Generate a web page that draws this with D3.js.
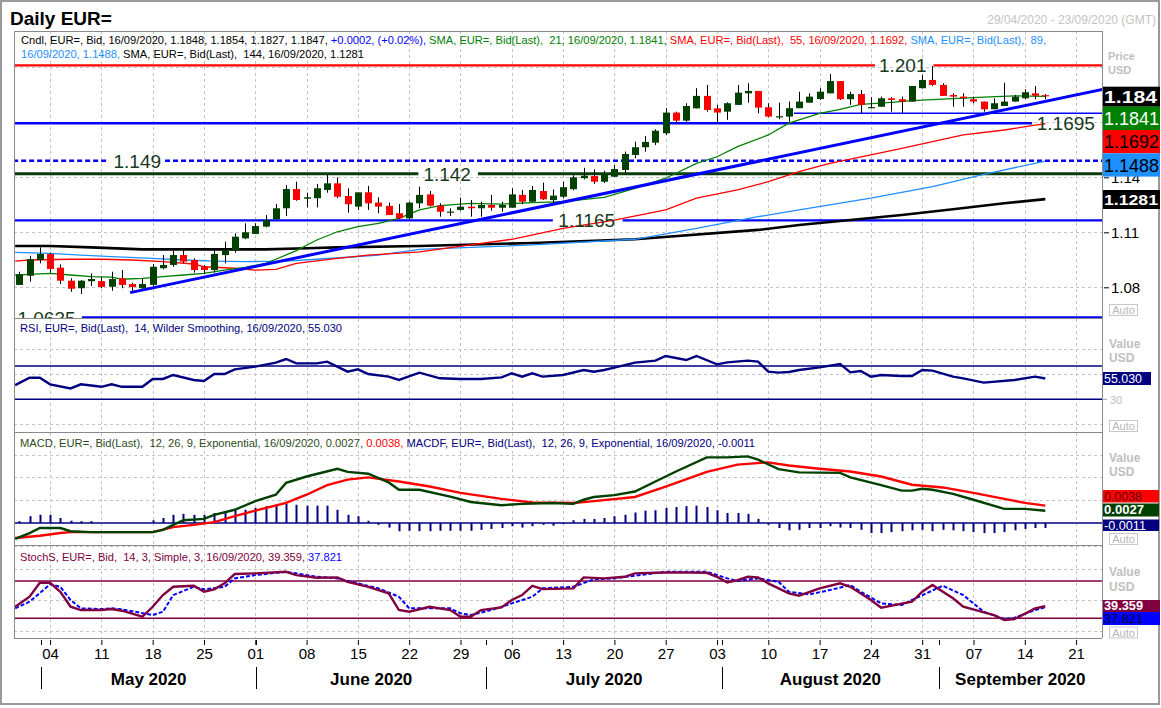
<!DOCTYPE html>
<html><head><meta charset="utf-8">
<script src="https://cdnjs.cloudflare.com/ajax/libs/d3/7.8.5/d3.min.js"></script>
<style>
body{margin:0;background:#fff;}
svg{display:block;}
text{font-family:"Liberation Sans",Arial,sans-serif;white-space:pre;}
</style></head>
<body>
<svg id="chart" width="1161" height="708"></svg>
<script>
// ================= DATA =================
// daily candles, index 0 = 29/04/2020 ... 100 = 16/09/2020
const open = [
 1.0813,1.0863,1.0949,1.0982,1.0907,1.0836,1.0795,1.0833,1.0834,1.0803,
 1.0849,1.0818,1.0795,1.0813,1.0904,1.0922,1.0976,1.0949,1.0912,1.0894,
 1.0976,1.1000,1.1067,1.1091,1.1131,1.1171,1.1231,1.1336,1.1283,1.1286,
 1.1331,1.1367,1.1298,1.1240,1.1318,1.1262,1.1244,1.1204,1.1176,1.1258,
 1.1307,1.1245,1.1211,1.1222,1.1240,1.1231,1.1249,1.1234,1.1234,1.1304,
 1.1267,1.1325,1.1276,1.1294,1.1335,1.1395,1.1407,1.1376,1.1403,1.1440,
 1.1522,1.1564,1.1589,1.1640,1.1753,1.1709,1.1776,1.1844,1.1776,1.1758,
 1.1795,1.1858,1.1871,1.1782,1.1729,1.1731,1.1777,1.1807,1.1827,1.1858,
 1.1925,1.1826,1.1854,1.1780,1.1785,1.1831,1.1826,1.1813,1.1886,1.1931,
 1.1904,1.1849,1.1840,1.1826,1.1813,1.1771,1.1789,1.1813,1.1831,1.1858,
 1.1848];
const high = [
 1.0885,1.0972,1.1018,1.0989,1.0925,1.0849,1.0840,1.0876,1.0855,1.0885,
 1.0894,1.0825,1.0849,1.0927,1.0976,1.1000,1.1003,1.0958,1.0922,1.1003,
 1.1049,1.1095,1.1149,1.1149,1.1194,1.1254,1.1358,1.1376,1.1316,1.1364,
 1.1413,1.1400,1.1340,1.1318,1.1353,1.1291,1.1262,1.1254,1.1267,1.1349,
 1.1325,1.1258,1.1231,1.1289,1.1276,1.1267,1.1304,1.1267,1.1340,1.1331,
 1.1353,1.1371,1.1333,1.1376,1.1411,1.1452,1.1444,1.1436,1.1467,1.1540,
 1.1594,1.1625,1.1662,1.1777,1.1758,1.1804,1.1886,1.1904,1.1795,1.1809,
 1.1904,1.1913,1.1871,1.1804,1.1807,1.1813,1.1867,1.1858,1.1886,1.1964,
 1.1925,1.1867,1.1876,1.1837,1.1840,1.1837,1.1840,1.1898,1.1958,1.2007,
 1.1913,1.1858,1.1858,1.1840,1.1813,1.1831,1.1916,1.1849,1.1880,1.1898,
 1.1854];
const low = [
 1.0813,1.0831,1.0931,1.0880,1.0818,1.0776,1.0763,1.0807,1.0795,1.0781,
 1.0795,1.0776,1.0785,1.0807,1.0898,1.0912,1.0931,1.0880,1.0871,1.0880,
 1.0931,1.0989,1.1063,1.1091,1.1127,1.1171,1.1189,1.1272,1.1236,1.1236,
 1.1316,1.1286,1.1207,1.1222,1.1222,1.1204,1.1194,1.1171,1.1171,1.1231,
 1.1240,1.1185,1.1189,1.1218,1.1185,1.1185,1.1218,1.1213,1.1234,1.1254,
 1.1267,1.1276,1.1258,1.1286,1.1329,1.1389,1.1364,1.1369,1.1403,1.1422,
 1.1504,1.1540,1.1576,1.1631,1.1695,1.1703,1.1776,1.1758,1.1695,1.1713,
 1.1795,1.1807,1.1749,1.1727,1.1717,1.1703,1.1777,1.1807,1.1822,1.1858,
 1.1822,1.1795,1.1749,1.1776,1.1785,1.1758,1.1749,1.1813,1.1884,1.1898,
 1.1844,1.1785,1.1785,1.1804,1.1758,1.1771,1.1789,1.1813,1.1826,1.1826,
 1.1827];
const close = [
 1.0871,1.0954,1.0982,1.0900,1.0836,1.0792,1.0836,1.0845,1.0802,1.0845,
 1.0813,1.0802,1.0818,1.0912,1.0922,1.0976,1.0940,1.0894,1.0894,1.0982,
 1.1000,1.1076,1.1100,1.1134,1.1167,1.1231,1.1336,1.1276,1.1291,1.1340,
 1.1367,1.1294,1.1253,1.1318,1.1258,1.1240,1.1194,1.1176,1.1262,1.1304,
 1.1245,1.1212,1.1213,1.1240,1.1231,1.1249,1.1234,1.1249,1.1307,1.1267,
 1.1331,1.1280,1.1300,1.1346,1.1400,1.1409,1.1376,1.1418,1.1445,1.1527,
 1.1564,1.1593,1.1654,1.1753,1.1709,1.1789,1.1844,1.1767,1.1753,1.1804,
 1.1862,1.1871,1.1780,1.1731,1.1733,1.1777,1.1813,1.1840,1.1867,1.1925,
 1.1826,1.1854,1.1795,1.1783,1.1831,1.1822,1.1813,1.1898,1.1931,1.1904,
 1.1844,1.1840,1.1831,1.1813,1.1771,1.1804,1.1813,1.1840,1.1864,1.1845,
 1.1847];

// moving averages: [dayIndex, price]
const sma21 = [[-0.4,1.0867],[1,1.0871],[3,1.0876],[5,1.0867],[7,1.0858],[9,1.0855],[10,1.0844],[12,1.0849],[14,1.0858],[16,1.0867],[18,1.0876],[20,1.0894],[22,1.0909],[24,1.0931],[25,1.0953],[27,1.1000],[29,1.1058],[31,1.1103],[33,1.1131],[35,1.1149],[37,1.1176],[39,1.1222],[41,1.1245],[44,1.1258],[47,1.1254],[50,1.1262],[53,1.1267],[57,1.1291],[60,1.1340],[63,1.1395],[66,1.1476],[68,1.1512],[70,1.1567],[73,1.1631],[75,1.1695],[78,1.1749],[80,1.1771],[82,1.1798],[85,1.1809],[87,1.1818],[90,1.1826],[94,1.1837],[97,1.1844],[100,1.1841]];
const sma55 = [[-0.4,1.0943],[1,1.0949],[5,1.0953],[8,1.0953],[11,1.0949],[14,1.0940],[17,1.0927],[18,1.0912],[21,1.0904],[23,1.0894],[25,1.0898],[27,1.0931],[31,1.0958],[34,1.0976],[39,1.0993],[48,1.1062],[53,1.1122],[58,1.1167],[63,1.1222],[66,1.1286],[70,1.1331],[73,1.1376],[76,1.1431],[79,1.1476],[83,1.1522],[86,1.1558],[89,1.1594],[92,1.1631],[96,1.1658],[99,1.1685],[100,1.1692]];
const sma89 = [[-0.4,1.0991],[3,1.0985],[6,1.0976],[9,1.0967],[13,1.0958],[16,1.0949],[19,1.0943],[22,1.0940],[26,1.0943],[29,1.0953],[32,1.0964],[35,1.0976],[39,1.1007],[50,1.1031],[60,1.1062],[66,1.1122],[72,1.1185],[76,1.1222],[83,1.1286],[89,1.1349],[94,1.1416],[100,1.1488]];
const sma144 = [[-0.4,1.1025],[3,1.1025],[7,1.1018],[12,1.1007],[16,1.1007],[24,1.1007],[28,1.1013],[31,1.1018],[39,1.1025],[50,1.1042],[60,1.1062],[72,1.1113],[76,1.1140],[86,1.1194],[91,1.1226],[96,1.1258],[100,1.1281]];

// drawn trend line and horizontal levels
const trendLine = [[10.8,1.0771],[105.8,1.1882]];
const levelPrices = [1.201, 1.1695, 1.149, 1.142, 1.1165, 1.0635, 1.1749];
const levelLabels = ["1.201","1.1695","1.149","1.142","1.1165","1.0635",""];

// RSI(14)
const rsi = [[-0.4,47],[1,55.9],[2,55.9],[3,48],[5,43],[6,48],[8,45],[9,48],[10,45],[12,45],[13,54.4],[14,54.4],[15,59.2],[17,53.2],[18,52],[19,60.4],[20,60.4],[21,66],[23,69.2],[25,74],[26,78.4],[27,73.2],[29,73.2],[30,75.2],[32,63.2],[33,66],[34,60.4],[36,57.2],[37,53.2],[39,62],[41,55.2],[43,54.4],[45,54.4],[47,56.4],[48,61.2],[49,57.2],[50,61.2],[51,57.2],[53,59.2],[55,65.2],[56,63.2],[57,65.2],[58,68],[60,74],[62,76.4],[63,82],[65,77.2],[66,82],[68,72],[69,74.4],[71,76.4],[72,75.2],[73,63.2],[74,62],[75,62.8],[76,65.2],[78,68.4],[80,72.4],[81,62.4],[82,64],[83,57.2],[84,59.2],[86,58],[87,58],[88,65.2],[89,64.4],[91,57.2],[92,55.2],[94,50],[97,53.2],[99,57.2],[100,55.03]];

// MACD(12,26,9)
const macdLine = [[-0.4,-0.0035],[1,-0.0022],[2,-0.0011],[4,-0.0011],[5,-0.0018],[7,-0.0020],[10,-0.0020],[13,-0.0020],[14,-0.0015],[15,-0.0004],[16,0.0006],[18,0.0009],[19,0.0018],[21,0.0029],[23,0.0048],[25,0.0062],[26,0.0088],[28,0.0102],[31,0.0119],[32,0.0112],[34,0.0108],[36,0.0089],[37,0.0073],[39,0.0073],[42,0.0058],[44,0.0046],[47,0.0039],[49,0.0042],[52,0.0044],[54,0.0042],[55,0.0051],[56,0.0057],[58,0.0061],[60,0.0069],[62,0.0091],[64,0.0113],[67,0.0144],[69,0.0144],[71,0.0146],[72,0.0139],[74,0.0118],[76,0.0111],[80,0.0110],[81,0.0100],[84,0.0083],[86,0.0071],[87,0.0071],[88,0.0075],[89,0.0073],[91,0.0064],[93,0.0051],[96,0.0031],[98,0.0031],[100,0.0027]];
const macdSignal = [[-0.4,-0.0033],[2,-0.0028],[4,-0.0022],[5,-0.0020],[8,-0.0020],[13,-0.0020],[15,-0.0009],[17,-0.0004],[19,0.0002],[21,0.0015],[23,0.0027],[26,0.0044],[28,0.0062],[30,0.0083],[32,0.0095],[34,0.0100],[37,0.0091],[40,0.0080],[43,0.0066],[47,0.0053],[50,0.0045],[54,0.0044],[56,0.0048],[60,0.0057],[63,0.0080],[67,0.0112],[70,0.0128],[73,0.0133],[75,0.0126],[78,0.0119],[81,0.0113],[84,0.0102],[87,0.0084],[90,0.0078],[93,0.0066],[96,0.0053],[98,0.0044],[100,0.0038]];
const macdHist = [
 0.0004,0.0015,0.0018,0.0018,0.0011,0.0005,0.0004,0.0004,0,0,
 0,0,0,0.0006,0.0011,0.0018,0.0020,0.0018,0.0018,0.0022,
 0.0024,0.0028,0.0029,0.0033,0.0037,0.0040,0.0042,0.0040,0.0038,0.0038,
 0.0038,0.0029,0.0018,0.0015,0.0005,-0.0004,-0.0010,-0.0018,-0.0017,-0.0018,
 -0.0018,-0.0017,-0.0017,-0.0017,-0.0017,-0.0015,-0.0013,-0.0011,-0.0007,-0.0010,
 -0.0007,-0.0004,-0.0006,-0.0002,0.0006,0.0009,0.0009,0.0011,0.0015,0.0018,
 0.0023,0.0027,0.0028,0.0033,0.0035,0.0037,0.0038,0.0035,0.0028,0.0022,
 0.0022,0.0020,0.0009,-0.0004,-0.0011,-0.0016,-0.0015,-0.0011,-0.0011,-0.0007,
 -0.0010,-0.0011,-0.0015,-0.0022,-0.0022,-0.0020,-0.0018,-0.0016,-0.0015,-0.0018,
 -0.0015,-0.0016,-0.0018,-0.0020,-0.0022,-0.0022,-0.0020,-0.0016,-0.0013,-0.0011,
 -0.0011];

// Slow stochastic (14,3,3)
const stochK = [[-0.4,38.6],[1,54.7],[2,77.2],[3,77.2],[4,62.7],[5,38.6],[6,33.3],[8,33.3],[9,34.9],[10,32.2],[12,22.5],[13,38.6],[14,57.4],[15,70.7],[17,72.3],[18,62.7],[19,66.6],[20,76.2],[21,91.2],[23,92.3],[26,94.9],[27,89.5],[29,85.2],[31,85.8],[32,78.8],[34,70.7],[36,60.1],[37,33.3],[38,30.5],[40,38.6],[42,33.3],[43,22.5],[44,22.5],[45,33.3],[47,37.6],[48,49.4],[49,57.4],[50,72.3],[51,67],[54,68.2],[55,85.8],[57,84.2],[59,86.8],[60,92.3],[62,93.2],[64,93.8],[67,93.2],[68,86.8],[69,77.8],[70,81.5],[71,86.8],[72,85.8],[73,76.2],[75,60.1],[76,56.3],[78,68.2],[80,76.2],[81,70.7],[83,49.4],[84,37],[87,46.6],[88,62.7],[89,73.5],[91,52.1],[92,38.6],[95,25.2],[96,17.2],[97,18.8],[99,36],[100,39.359]];
const stochD = [[-0.4,36],[1,46.6],[3,74.6],[4,70.7],[5,49.4],[6,36],[8,34.9],[9,36],[10,34.4],[13,25.2],[14,30.5],[15,57.4],[17,70.7],[18,66.6],[20,70.7],[21,84.2],[23,89.5],[26,94.9],[29,86.8],[31,84.2],[33,76.2],[35,68.2],[37,54.7],[38,36],[40,36],[42,36],[43,28],[44,25.2],[46,33.3],[48,44],[50,54.7],[51,68.2],[54,70.7],[56,82.6],[58,84.2],[60,88.4],[63,94.9],[67,94.9],[69,84.2],[70,79.9],[72,84.2],[74,78.8],[75,62.7],[77,58.5],[79,65.4],[81,73.5],[82,62.7],[84,44],[86,41.3],[87,49.4],[90,72.3],[92,57.4],[94,30.5],[96,18.8],[97,20.9],[99,33.3],[100,37.821]];

// axis labels
const priceTicks = [1.08, 1.11, 1.14];
const priceGrid = [1.08, 1.11, 1.14, 1.17, 1.20];
const monthNames = ["May 2020","June 2020","July 2020","August 2020","September 2020"];
const monthStarts = [2.1, 23.1, 45.5, 68.5, 89.6, 105.8]; // boundaries in day-index units

// ================= LAYOUT =================
const svg = d3.select("#chart");
const L = 14, R = 1102, AR = 1160;
const P = {top:31, bot:318}, RS = {top:318, bot:432}, MC = {top:432, bot:545}, ST = {top:545, bot:638};

const dates = d3.timeDay.range(new Date(2020,3,29), new Date(2020,8,24)).filter(d => d.getDay()%6 !== 0);
const x  = d3.scaleLinear().domain([0, 103]).range([19.3, 1076.1]);
const yP = d3.scaleLinear().domain([1.08, 1.14]).range([287.3, 177.3]);
const yR = d3.scaleLinear().domain([30, 70]).range([399.3, 366]);
const yM = d3.scaleLinear().domain([0, 0.005]).range([523, 500.2]);
const yS = d3.scaleLinear().domain([20, 80]).range([618.3, 581]);

svg.append("rect").attr("width",1161).attr("height",708).attr("fill","#fff");

const defs = svg.append("defs");
function clip(id, p){ defs.append("clipPath").attr("id",id).append("rect").attr("x",L).attr("y",p.top).attr("width",R-L).attr("height",p.bot-p.top); return "url(#"+id+")"; }
const cP = clip("cp",P), cR = clip("cr",RS), cM = clip("cm",MC), cS = clip("cs",ST);

// ---- grid ----
const mondays = dates.map((d,i)=> d.getDay()===1 ? i : -1).filter(i=>i>=0);
const grid = svg.append("g").attr("stroke","#c4c4c4").attr("stroke-width",1).attr("stroke-dasharray","3,3");
mondays.forEach(i=>{
  grid.append("line").attr("x1",Math.round(x(i))+0.5).attr("x2",Math.round(x(i))+0.5).attr("y1",P.top).attr("y2",ST.bot);
});
function hgrid(vals, scale){ vals.forEach(v=>{ const y=Math.round(scale(v))+0.5; grid.append("line").attr("x1",L).attr("x2",R).attr("y1",y).attr("y2",y); }); }
hgrid(priceGrid, yP);
hgrid([0,30,60,90], yR);
hgrid([-0.005,0.005,0.010,0.015], yM);
hgrid([0,50,100], yS);

// ---- price panel ----
const gp = svg.append("g").attr("clip-path",cP);
const line = (sx, sy) => d3.line().x(d=>sx(d[0])).y(d=>sy(d[1]));

// levels
const levelStyle = [
 {color:"#ff0000", w:2.2, dash:null, from:-0.6, to:105.8, gap:[83.4,89.1], lab:86.1},
 {color:"#0000ff", w:2.4, dash:null, from:-0.6, to:98.7, gap:null, lab:102.0},
 {color:"#0000ff", w:2.6, dash:"5,3", from:-0.6, to:105.8, gap:[8.6,14.2], lab:11.5},
 {color:"#0b3d0b", w:3, dash:null, from:-0.6, to:105.8, gap:[38.9,44.7], lab:41.7},
 {color:"#0000ff", w:2.4, dash:null, from:-0.6, to:105.8, gap:[52,58.8], lab:55.3},
 {color:"#0000ff", w:2.4, dash:null, from:6.1, to:105.8, gap:null, lab:2.65},
 {color:"#0000ff", w:1.4, dash:null, from:75.5, to:105.8, gap:null, lab:null}
];
levelPrices.forEach((p,k)=>{
  const s = levelStyle[k];
  const segs = s.gap ? [[s.from,s.gap[0]],[s.gap[1],s.to]] : [[s.from,s.to]];
  segs.forEach(sg=>{
    gp.append("line").attr("x1",x(sg[0])).attr("x2",x(sg[1])).attr("y1",yP(p)).attr("y2",yP(p))
      .attr("stroke",s.color).attr("stroke-width",s.w).attr("stroke-dasharray",s.dash);
  });
});

// moving averages
gp.append("path").datum(sma144).attr("d",line(x,yP)).attr("fill","none").attr("stroke","#000").attr("stroke-width",2.6);
gp.append("path").datum(sma89).attr("d",line(x,yP)).attr("fill","none").attr("stroke","#1e90ff").attr("stroke-width",1.3);
gp.append("path").datum(sma55).attr("d",line(x,yP)).attr("fill","none").attr("stroke","#ff0000").attr("stroke-width",1.3);
gp.append("path").datum(sma21).attr("d",line(x,yP)).attr("fill","none").attr("stroke","#008000").attr("stroke-width",1.3);

// candles
const cg = gp.append("g");
open.forEach((o,i)=>{
  const c = close[i], cx = Math.round(x(i))+0.5;
  cg.append("line").attr("x1",cx).attr("x2",cx).attr("y1",yP(high[i])).attr("y2",yP(low[i])).attr("stroke","#000").attr("stroke-width",1);
  const y1 = yP(Math.max(o,c)), y2 = yP(Math.min(o,c));
  cg.append("rect").attr("x",cx-3.5).attr("width",7).attr("y",y1).attr("height",Math.max(1.2,y2-y1))
    .attr("fill", c>=o ? "#004000" : "#ff0000");
});

// trend line
gp.append("path").datum(trendLine).attr("d",line(x,yP)).attr("fill","none").attr("stroke","#0000ff").attr("stroke-width",3);

// level labels
levelPrices.forEach((p,k)=>{
  const s = levelStyle[k];
  if(s.lab===null) return;
  gp.append("text").attr("x",x(s.lab)).attr("y",yP(p)+7).attr("text-anchor","middle")
    .attr("font-size",19).attr("fill","#17391c").text(levelLabels[k]);
});

// header texts
function header(xx, y, segs, width, size){
  const t = svg.append("text").attr("x",xx).attr("y",y).attr("font-size",size);
  segs.forEach(s=> t.append("tspan").attr("fill",s[1]).text(s[0]));
  t.attr("textLength",width).attr("lengthAdjust","spacingAndGlyphs");
  return t;
}
const f4 = d3.format(".4f");
const last = open.length-1;
header(21, 44, [
  ["Cndl, EUR=, Bid, 16/09/2020, "+f4(open[last])+", "+f4(high[last])+", "+f4(low[last])+", "+f4(close[last])+", ","#000"],
  ["+"+f4(0.0002)+", (+0.02%), ","#0000ff"],
  ["SMA, EUR=, Bid(Last),  21, 16/09/2020, "+f4(sma21[sma21.length-1][1])+", ","#008000"],
  ["SMA, EUR=, Bid(Last),  55, 16/09/2020, "+f4(sma55[sma55.length-1][1])+", ","#ff0000"],
  ["SMA, EUR=, Bid(Last),  89,","#1e90ff"]
], 1025, 11);
header(21, 57.5, [
  ["16/09/2020, "+f4(sma89[sma89.length-1][1])+", ","#1e90ff"],
  ["SMA, EUR=, Bid(Last),  144, 16/09/2020, "+f4(sma144[sma144.length-1][1]),"#000"]
], 343, 11);

// ---- RSI panel ----
const gr = svg.append("g").attr("clip-path",cR);
[70,30].forEach(v=> gr.append("line").attr("x1",L).attr("x2",R).attr("y1",yR(v)).attr("y2",yR(v)).attr("stroke","#000080").attr("stroke-width",1.4));
gr.append("path").datum(rsi).attr("d",line(x,yR)).attr("fill","none").attr("stroke","#000080").attr("stroke-width",2.4);
header(20, 332, [["RSI, EUR=, Bid(Last),  14, Wilder Smoothing, 16/09/2020, 55.030","#000080"]], 322, 10.5);

// ---- MACD panel ----
const gm = svg.append("g").attr("clip-path",cM);
gm.append("line").attr("x1",L).attr("x2",R).attr("y1",yM(0)).attr("y2",yM(0)).attr("stroke","#000080").attr("stroke-width",1.5);
macdHist.forEach((v,i)=>{
  if(v===0) return;
  const cx = Math.round(x(i))+0.5;
  gm.append("line").attr("x1",cx).attr("x2",cx).attr("y1",yM(0)).attr("y2",yM(v)).attr("stroke","#000080").attr("stroke-width",2);
});
gm.append("path").datum(macdSignal).attr("d",line(x,yM)).attr("fill","none").attr("stroke","#ff0000").attr("stroke-width",2.4);
gm.append("path").datum(macdLine).attr("d",line(x,yM)).attr("fill","none").attr("stroke","#004000").attr("stroke-width",2.4);
header(20, 446.5, [
  ["MACD, EUR=, Bid(Last),  12, 26, 9, Exponential, 16/09/2020, 0.0027, ","#2d4d1d"],
  ["0.0038, ","#ff0000"],
  ["MACDF, EUR=, Bid(Last),  12, 26, 9, Exponential, 16/09/2020, -0.0011","#000080"]
], 735, 10.5);

// ---- Stochastic panel ----
const gs = svg.append("g").attr("clip-path",cS);
[80,20].forEach(v=> gs.append("line").attr("x1",L).attr("x2",R).attr("y1",yS(v)).attr("y2",yS(v)).attr("stroke","#800040").attr("stroke-width",1.4));
gs.append("path").datum(stochD).attr("d",line(x,yS)).attr("fill","none").attr("stroke","#0000ff").attr("stroke-width",2).attr("stroke-dasharray","4,2");
gs.append("path").datum(stochK).attr("d",line(x,yS)).attr("fill","none").attr("stroke","#800040").attr("stroke-width",2.4);
header(20, 561, [
  ["StochS, EUR=, Bid,  14, 3, Simple, 3, 16/09/2020, 39.359, ","#800040"],
  ["37.821","#0000ff"]
], 322, 10.5);

// ---- frames ----
const fr = svg.append("g").attr("stroke","#8a8a8a").attr("stroke-width",1);
fr.append("line").attr("x1",L).attr("x2",R).attr("y1",P.top+0.5).attr("y2",P.top+0.5);
fr.append("line").attr("x1",L+0.5).attr("x2",L+0.5).attr("y1",P.top).attr("y2",ST.bot);
fr.append("line").attr("x1",R+0.5).attr("x2",R+0.5).attr("y1",P.top).attr("y2",ST.bot);
[P.bot, RS.bot, MC.bot, ST.bot].forEach(y=> fr.append("line").attr("x1",L).attr("x2",R).attr("y1",y+0.5).attr("y2",y+0.5));
svg.append("rect").attr("x",1).attr("y",1).attr("width",1158).attr("height",703).attr("fill","none").attr("stroke","#9a9a9a").attr("stroke-width",2);

// ---- title ----
svg.append("text").attr("x",10).attr("y",25).attr("font-size",19).attr("font-weight","bold").attr("fill","#000").text("Daily EUR=");
svg.append("text").attr("x",1156).attr("y",24).attr("text-anchor","end").attr("font-size",12).attr("fill","#c4c4c4").text("29/04/2020 - 23/09/2020 (GMT)");

// ---- right price axis ----
const ax = svg.append("g").attr("transform","translate("+(R+2)+",0)")
  .call(d3.axisRight(yP).tickValues(priceTicks).tickSize(5).tickPadding(2).tickFormat(d3.format(".2f")));
ax.select(".domain").remove();
ax.selectAll("text").attr("font-family","DejaVu Sans").attr("font-size",15).attr("fill","#000");
ax.selectAll("line").attr("stroke","#000");

function gray(t, xx, y, size, bold){ svg.append("text").attr("x",xx).attr("y",y).attr("font-size",size).attr("font-weight",bold?"bold":"normal").attr("fill","#c0c0c0").text(t); }
function autoBox(y){ svg.append("rect").attr("x",1109.5).attr("y",y+0.5).attr("width",28).attr("height",11).attr("fill","#fff").attr("stroke","#c8c8c8");
  svg.append("text").attr("x",1123.5).attr("y",y+10).attr("text-anchor","middle").attr("font-size",11).attr("fill","#b8b8b8").text("Auto"); }
gray("Price",1108,59.5,11,true); gray("USD",1108,73.5,11,true);
gray("Value",1109,347.5,12,true); gray("USD",1109,362,12,true);
gray("Value",1109,461.5,12,true); gray("USD",1109,476,12,true);
gray("Value",1109,576,12,true); gray("USD",1109,591,12,true);
svg.append("line").attr("x1",R).attr("x2",R+5).attr("y1",yR(30)).attr("y2",yR(30)).attr("stroke","#999");
gray("30",1110,404,11,false);
autoBox(304); autoBox(420); autoBox(533); autoBox(626.5);

// value tags
function tag(y0, h, w, bg, fg, txt, family, size, weight, tl){
  svg.append("rect").attr("x",R+1).attr("y",y0).attr("width",w).attr("height",h).attr("fill",bg);
  const t = svg.append("text").attr("x",R+2).attr("y",y0+h/2+size*0.36).attr("font-family",family).attr("font-size",size)
    .attr("font-weight",weight).attr("fill",fg).text(txt);
  if(tl) t.attr("textLength",tl).attr("lengthAdjust","spacingAndGlyphs");
}
const trunc3 = v => (Math.floor(v*1000)/1000).toFixed(3);
tag(86.7, 20, 57, "#000", "#fff", trunc3(close[last]), "DejaVu Sans", 17, "bold", 53);
tag(106.7, 23.3, 57, "#008000", "#fff", f4(sma21[sma21.length-1][1]), "Liberation Sans", 19, "normal", 55);
tag(130, 23.3, 57, "#ff0000", "#000", f4(sma55[sma55.length-1][1]), "Liberation Sans", 19, "normal", 55);
tag(153.3, 23.3, 57, "#1e90ff", "#000", f4(sma89[sma89.length-1][1]), "Liberation Sans", 19, "normal", 55);
tag(190, 19, 57, "#000", "#fff", f4(sma144[sma144.length-1][1]), "DejaVu Sans", 15, "bold", 54);

tag(372, 13, 48, "#000080", "#fff", "55.030", "Liberation Sans", 12, "normal", 38);
tag(490, 12.5, 56, "#ff0000", "#600000", "0.0038", "Liberation Sans", 12, "normal", 38);
tag(503.5, 13, 56, "#004000", "#fff", "0.0027", "Liberation Sans", 12, "bold", 40);
tag(519.5, 11.5, 56, "#000080", "#fff", "-0.0011", "Liberation Sans", 12, "normal", 42);
tag(600, 12, 57, "#800040", "#fff", "39.359", "Liberation Sans", 12, "bold", 39);
tag(612, 13, 57, "#0000ff", "#000040", "37.821", "Liberation Sans", 12, "normal", 39);

// ---- bottom date axis ----
const xa = svg.append("g").attr("transform","translate(0,640)")
  .call(d3.axisBottom(x).tickValues(mondays).tickSize(5).tickPadding(3).tickFormat(i=>d3.timeFormat("%d")(dates[i])));
xa.select(".domain").remove();
xa.selectAll("text").attr("font-family","DejaVu Sans").attr("font-size",15).attr("fill","#000");
xa.selectAll("line").attr("stroke","#000");

const mg = svg.append("g");
monthNames.forEach((m,k)=>{
  const x0 = x(monthStarts[k]), x1 = x(monthStarts[k+1]);
  mg.append("line").attr("x1",Math.round(x0)+0.5).attr("x2",Math.round(x0)+0.5).attr("y1",640).attr("y2",645).attr("stroke","#000");
  mg.append("line").attr("x1",Math.round(x0)+0.5).attr("x2",Math.round(x0)+0.5).attr("y1",667).attr("y2",689).attr("stroke","#000");
  mg.append("text").attr("x",(x0+Math.min(x1,R))/2).attr("y",685).attr("text-anchor","middle")
    .attr("font-family","DejaVu Sans").attr("font-weight","bold").attr("font-size",17).attr("fill","#000").text(m);
});
</script>
</body></html>
